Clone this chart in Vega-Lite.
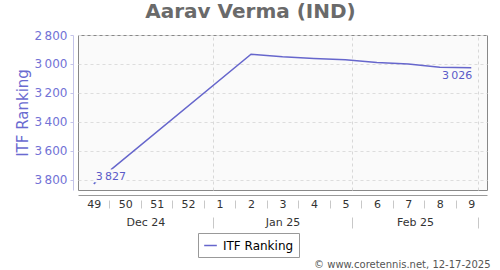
{
  "$schema": "https://vega.github.io/schema/vega-lite/v6.json",
  "width": 409,
  "height": 155,
  "autosize": "none",
  "padding": {"left": 78, "top": 35, "right": 13, "bottom": 80},
  "background": "white",
  "title": {"text": "Aarav Verma (IND)", "font": "DejaVu Sans", "fontSize": 20, "fontWeight": "bold", "color": "#6a6a6a", "anchor": "middle", "frame": "group", "dx": -32, "dy": 17, "baseline": "alphabetic", "offset": 8},
  "config": {
    "locale": {"number": {"decimal": ".", "thousands": "\u2009", "grouping": [3], "currency": ["", ""]}},
    "view": {"fill": "#fafafa", "stroke": "#888888", "strokeWidth": 1},
    "font": "DejaVu Sans"
  },
  "data": {"values": [
    {"week": "2024-12-05T12:00:00Z", "rank": 3827, "series": "ITF Ranking"},
    {"week": "2025-01-09T12:00:00Z", "rank": 2933, "series": "ITF Ranking"},
    {"week": "2025-01-16T12:00:00Z", "rank": 2950, "series": "ITF Ranking"},
    {"week": "2025-01-23T12:00:00Z", "rank": 2962, "series": "ITF Ranking"},
    {"week": "2025-01-30T12:00:00Z", "rank": 2970, "series": "ITF Ranking"},
    {"week": "2025-02-06T12:00:00Z", "rank": 2990, "series": "ITF Ranking"},
    {"week": "2025-02-13T12:00:00Z", "rank": 3000, "series": "ITF Ranking"},
    {"week": "2025-02-20T12:00:00Z", "rank": 3022, "series": "ITF Ranking"},
    {"week": "2025-02-27T12:00:00Z", "rank": 3026, "series": "ITF Ranking"}
  ]},
  "layer": [
    {
      "mark": {"type": "point", "opacity": 0},
      "encoding": {
        "x": {"field": "week", "type": "temporal",
          "scale": {"type": "utc", "domain": [{"year": 2024, "month": 12, "date": 2, "utc": true}, {"year": 2025, "month": 3, "date": 3, "utc": true}]},
          "axis": {"orient": "bottom", "title": null, "labels": false, "ticks": false, "domain": false, "grid": true, "gridColor": "#d8d8d8", "gridDash": [3, 3],
            "values": [{"year": 2025, "month": 1, "date": 1, "utc": true}, {"year": 2025, "month": 2, "date": 1, "utc": true}, {"year": 2025, "month": 3, "date": 1, "utc": true}]}},
        "y": {"field": "rank", "type": "quantitative", "axis": null}
      }
    },
    {
      "mark": {"type": "point", "opacity": 0},
      "encoding": {
        "x": {"field": "week", "type": "temporal",
          "axis": {"orient": "bottom", "title": null, "labels": false, "ticks": true, "tickSize": 8, "tickColor": "#c8c8c8", "domain": false, "grid": false, "offset": 10,
            "values": [
              {"year": 2024, "month": 12, "date": 9, "utc": true}, {"year": 2024, "month": 12, "date": 16, "utc": true},
              {"year": 2024, "month": 12, "date": 23, "utc": true}, {"year": 2024, "month": 12, "date": 30, "utc": true},
              {"year": 2025, "month": 1, "date": 6, "utc": true}, {"year": 2025, "month": 1, "date": 13, "utc": true},
              {"year": 2025, "month": 1, "date": 20, "utc": true}, {"year": 2025, "month": 1, "date": 27, "utc": true},
              {"year": 2025, "month": 2, "date": 3, "utc": true}, {"year": 2025, "month": 2, "date": 10, "utc": true},
              {"year": 2025, "month": 2, "date": 17, "utc": true}, {"year": 2025, "month": 2, "date": 24, "utc": true}]}},
        "y": {"field": "rank", "type": "quantitative", "axis": null}
      }
    },
    {
      "mark": {"type": "point", "opacity": 0},
      "encoding": {
        "x": {"field": "week", "type": "temporal",
          "axis": {"orient": "bottom", "title": null, "labels": true, "ticks": false, "tickSize": 0, "domain": false, "grid": false, "offset": 0, "labelPadding": 26,
            "labelExpr": "utcFormat(datum.value, '%b %y')", "labelFontSize": 11, "labelColor": "#333333", "labelFont": "DejaVu Sans", "labelBaseline": "top", "labelAlign": "center",
            "values": [{"year": 2024, "month": 12, "date": 17, "utc": true}, {"year": 2025, "month": 1, "date": 16, "hours": 12, "utc": true}, {"year": 2025, "month": 2, "date": 15, "utc": true}]}},
        "y": {"field": "rank", "type": "quantitative", "axis": null}
      }
    },
    {
      "mark": {"type": "point", "opacity": 0},
      "encoding": {
        "x": {"field": "week", "type": "temporal",
          "axis": {"orient": "bottom", "title": "© www.coretennis.net, 12-17-2025", "titleFont": "DejaVu Sans", "titleFontSize": 10, "titleFontWeight": "normal", "titleColor": "#555555",
            "titleX": 412, "titleY": 47, "titleAlign": "right", "titleBaseline": "middle", "titleAnchor": null,
            "labels": false, "ticks": true, "tickSize": 11, "tickColor": "#c8c8c8", "domain": false, "grid": false, "offset": 27,
            "values": [{"year": 2025, "month": 1, "date": 1, "utc": true}, {"year": 2025, "month": 2, "date": 1, "utc": true}, {"year": 2025, "month": 3, "date": 1, "utc": true}]}},
        "y": {"field": "rank", "type": "quantitative", "axis": null}
      }
    },
    {
      "mark": {"type": "line", "strokeWidth": 1.5},
      "encoding": {
        "x": {"field": "week", "type": "temporal",
          "axis": {"orient": "bottom", "title": null, "labels": true, "ticks": false, "tickSize": 0, "domain": true, "domainColor": "#999999", "grid": false, "offset": 5, "labelPadding": 3,
            "labelExpr": "utcFormat(datum.value, '%-V')", "labelFontSize": 11, "labelColor": "#333333", "labelFont": "DejaVu Sans", "labelBaseline": "top", "labelAlign": "center",
            "values": [
              {"year": 2024, "month": 12, "date": 5, "hours": 12, "utc": true}, {"year": 2024, "month": 12, "date": 12, "hours": 12, "utc": true},
              {"year": 2024, "month": 12, "date": 19, "hours": 12, "utc": true}, {"year": 2024, "month": 12, "date": 26, "hours": 12, "utc": true},
              {"year": 2025, "month": 1, "date": 2, "hours": 12, "utc": true}, {"year": 2025, "month": 1, "date": 9, "hours": 12, "utc": true},
              {"year": 2025, "month": 1, "date": 16, "hours": 12, "utc": true}, {"year": 2025, "month": 1, "date": 23, "hours": 12, "utc": true},
              {"year": 2025, "month": 1, "date": 30, "hours": 12, "utc": true}, {"year": 2025, "month": 2, "date": 6, "hours": 12, "utc": true},
              {"year": 2025, "month": 2, "date": 13, "hours": 12, "utc": true}, {"year": 2025, "month": 2, "date": 20, "hours": 12, "utc": true},
              {"year": 2025, "month": 2, "date": 27, "hours": 12, "utc": true}]}},
        "y": {"field": "rank", "type": "quantitative",
          "scale": {"domain": [2800, 3869], "reverse": true, "nice": false, "zero": false},
          "axis": {"orient": "left", "title": "ITF Ranking", "values": [2800, 3000, 3200, 3400, 3600, 3800], "format": ",d", "offset": 5,
            "domainColor": "#c4c4ea", "tickColor": "#c4c4ea", "tickSize": 3, "labelPadding": 3,
            "labelColor": "#7272d6", "labelFontSize": 12, "labelFont": "DejaVu Sans",
            "titleColor": "#6a6ad0", "titleFontSize": 15, "titleFontWeight": "normal", "titleFont": "DejaVu Sans", "titlePadding": 4,
            "grid": true, "gridColor": "#dddddd", "gridDash": [3, 3]}},
        "color": {"field": "series", "type": "nominal", "scale": {"range": ["#6666cc"]},
          "legend": {"title": null, "orient": "none", "legendX": 120, "legendY": 198, "symbolType": "stroke", "symbolSize": 160, "symbolStrokeWidth": 1.5,
            "labelFontSize": 12, "labelColor": "#000000", "labelFont": "DejaVu Sans", "strokeColor": "#999999", "fillColor": "white", "padding": 5, "labelOffset": 5}}
      }
    },
    {
      "transform": [{"filter": "datum.rank == 3827"}],
      "mark": {"type": "text", "align": "left", "baseline": "middle", "dx": 2, "dy": -7, "fontSize": 11, "font": "DejaVu Sans", "stroke": "#fafafa", "strokeWidth": 6, "strokeJoin": "round", "fill": "#fafafa"},
      "encoding": {
        "x": {"field": "week", "type": "temporal", "axis": null},
        "y": {"field": "rank", "type": "quantitative", "axis": null},
        "text": {"field": "rank", "type": "quantitative", "format": ",d"}
      }
    },
    {
      "transform": [{"filter": "datum.rank == 3827"}],
      "mark": {"type": "text", "align": "left", "baseline": "middle", "dx": 2, "dy": -7, "fontSize": 11, "font": "DejaVu Sans", "fill": "#5a5ac8"},
      "encoding": {
        "x": {"field": "week", "type": "temporal", "axis": null},
        "y": {"field": "rank", "type": "quantitative", "axis": null},
        "text": {"field": "rank", "type": "quantitative", "format": ",d"}
      }
    },
    {
      "transform": [{"filter": "datum.rank == 3026"}],
      "mark": {"type": "text", "align": "right", "baseline": "middle", "dx": 1, "dy": 8, "fontSize": 11, "font": "DejaVu Sans", "fill": "#5a5ac8"},
      "encoding": {
        "x": {"field": "week", "type": "temporal", "axis": null},
        "y": {"field": "rank", "type": "quantitative", "axis": null},
        "text": {"field": "rank", "type": "quantitative", "format": ",d"}
      }
    }
  ],
  "resolve": {"axis": {"x": "independent", "y": "independent"}}
}
